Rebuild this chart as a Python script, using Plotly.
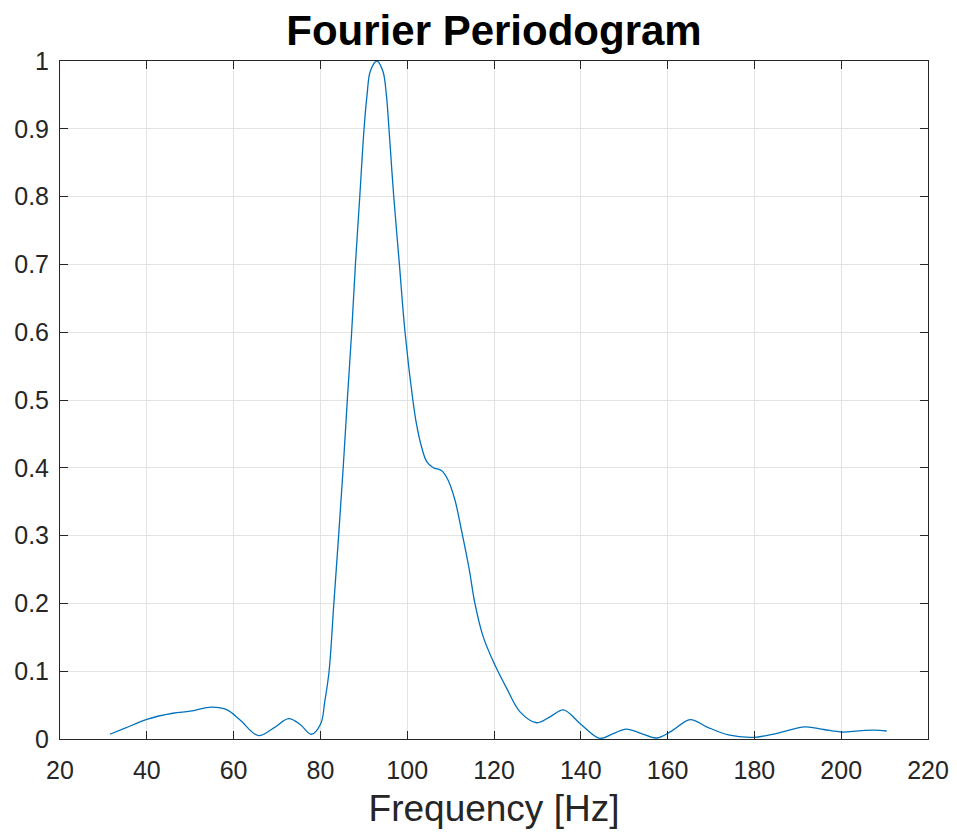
import plotly.graph_objects as go

freq = [31.5, 35, 40, 46, 50, 55, 58.5, 61.5, 65.7, 69.2, 72.7, 75.4, 77.9, 80.1, 81.0, 82.0,
        83.1, 84.2, 85.25, 86.2, 87.2, 88.07, 89.07, 90.06, 90.75, 91.5, 93, 94.4, 95.2, 95.8,
        96.9, 98.2, 99.5, 101.3, 102.1, 103.3, 104.5, 106.0, 107.9, 109.4, 111.0, 112.5,
        114.3, 115.6, 117.5, 120.0, 122.9, 126.0, 129.8, 133, 136, 139.8, 144.4, 147.5,
        150.5, 154, 157.5, 161, 165.2, 169, 174, 179.8, 185, 191.7, 196, 200.2, 204, 207.5,
        210.5]
power = [0.007, 0.016, 0.029, 0.038, 0.041, 0.047, 0.043, 0.028, 0.005, 0.016, 0.030, 0.021,
         0.007, 0.023, 0.055, 0.1, 0.2, 0.3, 0.4, 0.5, 0.6, 0.7, 0.8, 0.9, 0.95, 0.985, 1.0,
         0.985, 0.95, 0.9, 0.8, 0.7, 0.6, 0.5, 0.466, 0.431, 0.409, 0.400, 0.396, 0.382,
         0.3525, 0.308, 0.25, 0.2, 0.151, 0.112, 0.075, 0.040, 0.024, 0.033, 0.043, 0.023,
         0.001, 0.008, 0.0147, 0.008, 0.0015, 0.012, 0.0285, 0.018, 0.006, 0.0025, 0.008,
         0.018, 0.014, 0.0103, 0.012, 0.013, 0.0118]

x_ticks = [20, 40, 60, 80, 100, 120, 140, 160, 180, 200, 220]
y_ticks = [0, 0.1, 0.2, 0.3, 0.4, 0.5, 0.6, 0.7, 0.8, 0.9, 1]
y_labels = ["0", "0.1", "0.2", "0.3", "0.4", "0.5", "0.6", "0.7", "0.8", "0.9", "1"]

FONT = "Liberation Sans, Arial, sans-serif"

fig = go.Figure()
fig.add_trace(go.Scatter(x=freq, y=power, mode="lines",
                         line=dict(color="#0072BD", width=1.3, shape="spline", smoothing=1.0),
                         showlegend=False, hoverinfo="x+y"))

axis_common = dict(showline=True, linecolor="#262626", linewidth=1, mirror="ticks",
                   ticks="inside", ticklen=8, tickcolor="#262626", tickwidth=1,
                   showgrid=True, gridcolor="#e3e3e3", gridwidth=1, zeroline=False,
                   automargin=False,
                   tickfont=dict(family=FONT, size=25, color="#262626"))

fig.update_layout(
    width=957, height=835,
    margin=dict(l=60, r=29, t=61, b=96),
    paper_bgcolor="white", plot_bgcolor="white",
    title=dict(text="<b>Fourier Periodogram</b>", x=0.5, xref="paper", xanchor="center",
               y=1 - 30 / 835, yref="container", yanchor="middle",
               font=dict(family=FONT, size=42, color="black")),
    xaxis=dict(range=[20, 220], tickvals=x_ticks, ticktext=[str(v) for v in x_ticks],
               ticklabelstandoff=9,
               title=dict(text="Frequency [Hz]", standoff=12,
                          font=dict(family=FONT, size=37, color="#262626")),
               **axis_common),
    yaxis=dict(range=[0, 1], tickvals=y_ticks, ticktext=y_labels, ticklabelstandoff=5,
               **axis_common),
)

fig.write_html("out.html")
